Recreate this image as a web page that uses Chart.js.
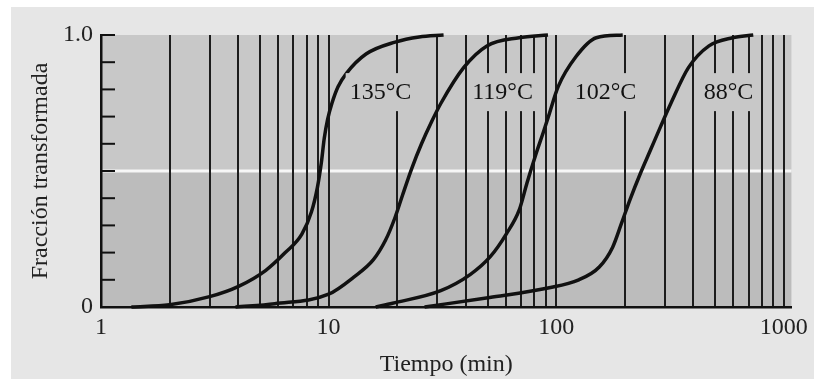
<!DOCTYPE html>
<html>
<head>
<meta charset="utf-8">
<script src="https://cdn.jsdelivr.net/npm/chart.js@4.4.1/dist/chart.umd.min.js"></script>
<style>
  html, body { margin: 0; padding: 0; background: #ffffff; }
  #marco { position: absolute; left: 11px; top: 7px; width: 803px; height: 372px; background: #e6e6e6; }
</style>
</head>
<body>
<div id="marco"><canvas id="grafico" width="803" height="372"></canvas></div>
<script>
// curvas de transformación (tiempo en min, fracción transformada)
const tiempo135 = [1.36, 2.0, 3.0, 4.0, 5.3, 6.45, 7.63, 8.41, 8.93, 9.29, 9.57, 9.9, 10.35, 11.0, 12.0, 14.6, 19.6, 25, 32];
const fraccion135 = [0, 0.008, 0.038, 0.075, 0.135, 0.2, 0.268, 0.35, 0.44, 0.53, 0.62, 0.69, 0.75, 0.81, 0.86, 0.93, 0.974, 0.993, 1.0];

const tiempo119 = [3.9, 5.8, 10, 12.9, 15.7, 17.8, 19.6, 21.1, 23.2, 25.6, 28.3, 31.2, 39.2, 49.6, 68.7, 92];
const fraccion119 = [0, 0.012, 0.047, 0.11, 0.173, 0.246, 0.33, 0.41, 0.51, 0.60, 0.68, 0.75, 0.88, 0.96, 0.99, 1.0];

const tiempo102 = [16.1, 19.1, 31.1, 42.0, 51.2, 60.5, 68.8, 74.4, 81.3, 88.0, 92.4, 102, 122, 150, 196];
const fraccion102 = [0, 0.014, 0.06, 0.12, 0.184, 0.27, 0.357, 0.456, 0.56, 0.645, 0.70, 0.81, 0.92, 0.99, 1.0];

const tiempo88 = [26.4, 51, 92, 125.6, 154.6, 177, 194, 211, 234, 259.5, 288, 319.5, 381, 469, 595, 734];
const fraccion88 = [0, 0.035, 0.07, 0.10, 0.147, 0.22, 0.31, 0.395, 0.49, 0.577, 0.665, 0.75, 0.88, 0.96, 0.99, 1.0];

// rótulos de cada curva
const temperaturas = ['135°C', '119°C', '102°C', '88°C'];
const rotuloTiempo = [16.9, 58.1, 164.6, 571];
const rotuloFraccion = 0.79;

// marcas de los ejes
const marcasX = [1, 2, 3, 4, 5, 6, 7, 8, 9, 10, 20, 30, 40, 50, 60, 70, 80, 90,
                 100, 200, 300, 400, 500, 600, 700, 800, 900, 1000];
const etiquetasX = [1, 10, 100, 1000];
const marcasY = [0, 0.1, 0.2, 0.3, 0.4, 0.5, 0.6, 0.7, 0.8, 0.9, 1.0];

const fuente = "'Liberation Serif', 'Times New Roman', serif";
const grisArriba = '#c8c8c8';
const grisAbajo = '#bcbcbc';

function puntos(ts, fs) {
    return ts.map((t, i) => ({ x: t, y: fs[i] }));
}

function curva(ts, fs) {
    return {
        data: puntos(ts, fs),
        borderColor: '#111',
        borderWidth: 3.5,
        pointRadius: 0,
        fill: false,
        cubicInterpolationMode: 'monotone',
        clip: false
    };
}

// fondo gris del área y línea blanca en 0.5
const fondo = {
    id: 'fondo',
    beforeDraw(chart) {
        const { ctx, chartArea: a, scales } = chart;
        const ym = scales.y.getPixelForValue(0.5);
        ctx.save();
        ctx.fillStyle = grisArriba;
        ctx.fillRect(a.left, a.top, a.right - a.left, ym - a.top);
        ctx.fillStyle = grisAbajo;
        ctx.fillRect(a.left, ym, a.right - a.left, a.bottom - ym);
        ctx.strokeStyle = 'rgba(255,255,255,0.85)';
        ctx.lineWidth = 3;
        ctx.beginPath();
        ctx.moveTo(a.left, ym);
        ctx.lineTo(a.right, ym);
        ctx.stroke();
        ctx.restore();
    }
};

// marcas del eje y hacia dentro y rótulos de temperatura
const extras = {
    id: 'extras',
    afterDatasetsDraw(chart) {
        const { ctx, chartArea: a, scales } = chart;
        ctx.save();
        ctx.strokeStyle = '#111';
        ctx.lineWidth = 2;
        marcasY.forEach(v => {
            const y = scales.y.getPixelForValue(v);
            ctx.beginPath();
            ctx.moveTo(a.left, y);
            ctx.lineTo(a.left + 14, y);
            ctx.stroke();
        });

        ctx.font = '24px ' + fuente;
        ctx.textAlign = 'center';
        ctx.textBaseline = 'middle';
        temperaturas.forEach((txt, i) => {
            const x = scales.x.getPixelForValue(rotuloTiempo[i]);
            const y = scales.y.getPixelForValue(rotuloFraccion);
            const w = ctx.measureText(txt).width + 8;
            ctx.fillStyle = grisArriba;
            ctx.fillRect(x - w / 2, y - 19, w, 38);
            ctx.fillStyle = '#111';
            ctx.fillText(txt, x, y + 1);
        });
        ctx.restore();
    }
};

new Chart(document.getElementById('grafico'), {
    type: 'line',
    data: {
        datasets: [
            curva(tiempo135, fraccion135),
            curva(tiempo119, fraccion119),
            curva(tiempo102, fraccion102),
            curva(tiempo88, fraccion88)
        ]
    },
    options: {
        responsive: false,
        animation: false,
        layout: { padding: { top: 28, right: 16, left: 0, bottom: 0 } },
        plugins: { legend: { display: false }, tooltip: { enabled: false } },
        scales: {
            x: {
                type: 'logarithmic',
                min: 1,
                max: 1080,
                afterBuildTicks: s => { s.ticks = marcasX.map(v => ({ value: v })); },
                afterFit: s => { s.height = 72; },
                grid: { color: '#1c1c1c', lineWidth: 2, drawTicks: false },
                border: { display: true, color: '#111', width: 2.5 },
                ticks: {
                    autoSkip: false,
                    maxRotation: 0,
                    padding: 6,
                    color: '#222',
                    font: { family: fuente, size: 24 },
                    callback: v => etiquetasX.includes(v) ? String(v) : ''
                },
                title: {
                    display: true,
                    text: 'Tiempo (min)',
                    color: '#222',
                    font: { family: fuente, size: 24 },
                    padding: { top: 0, bottom: 0 }
                }
            },
            y: {
                min: 0,
                max: 1,
                afterBuildTicks: s => { s.ticks = marcasY.map(v => ({ value: v })); },
                afterFit: s => { s.width = 90; },
                grid: { color: 'rgba(0,0,0,0)', drawTicks: false },
                border: { display: true, color: '#111', width: 2.5 },
                ticks: {
                    padding: 8,
                    color: '#222',
                    font: { family: fuente, size: 24 },
                    callback: v => Math.abs(v) < 1e-9 ? '0' : Math.abs(v - 0.5) < 1e-9 ? '0.5' : Math.abs(v - 1) < 1e-9 ? '1.0' : ''
                },
                title: {
                    display: true,
                    text: 'Fracción transformada',
                    color: '#222',
                    font: { family: fuente, size: 24 },
                    padding: { top: 15, bottom: 0 }
                }
            }
        }
    },
    plugins: [fondo, extras]
});
</script>
</body>
</html>
